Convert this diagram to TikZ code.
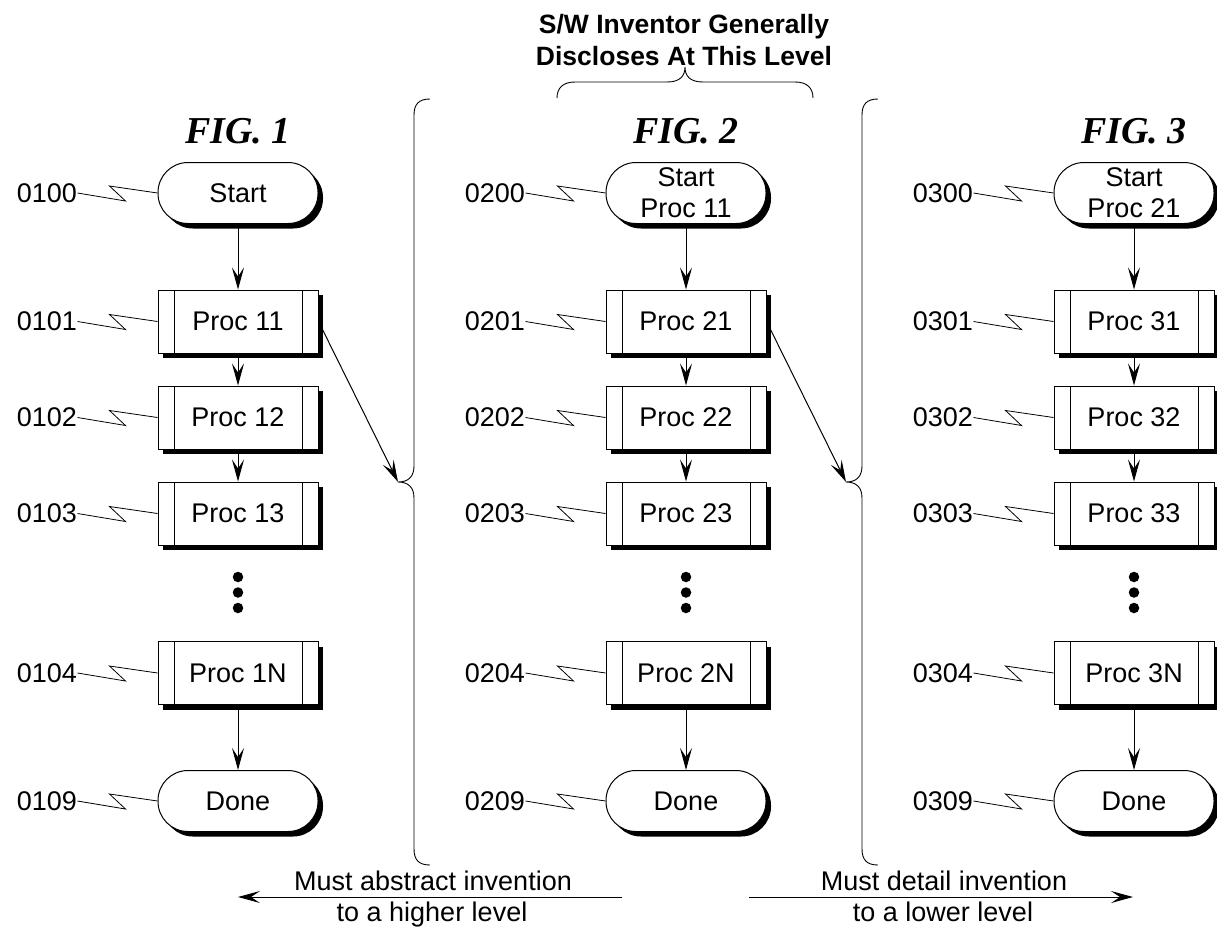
\documentclass[tikz,border=0pt]{standalone}
\usepackage{fontspec}
\setmainfont{Liberation Sans}
\newfontfamily\figfont{Liberation Serif}
\usetikzlibrary{arrows.meta,shadows,calc}

\begin{document}
\begin{tikzpicture}[x=1pt,y=-1pt,line width=1pt,
  every node/.style={font=\fontsize{27}{31}\selectfont, inner sep=0pt},
  shade/.style={drop shadow={shadow xshift=5pt, shadow yshift=-5pt, fill=black, opacity=1}},
  term/.style={draw, fill=white, shade, minimum width=160pt, minimum height=61pt,
    rounded corners=30pt, align=center},
  proc/.style={draw, fill=white, shade, minimum width=160pt, minimum height=63pt,
    path picture={\draw[line width=0.8pt]
      ([xshift=16pt]path picture bounding box.north west) -- ([xshift=16pt]path picture bounding box.south west)
      ([xshift=-16pt]path picture bounding box.north east) -- ([xshift=-16pt]path picture bounding box.south east);}},
  dot/.style={circle, fill=black, minimum size=10.5pt},
  arr/.style={-{Stealth[length=22pt,width=12pt,inset=9pt]}},
  lead/.style={line width=0.8pt},
  figt/.style={font=\fontsize{38}{40}\selectfont\figfont\bfseries\itshape, anchor=base},
  head/.style={font=\fontsize{26.5}{31}\selectfont\bfseries, anchor=base},
  note/.style={anchor=base},
  brace/.style={line width=0.9pt}]

\useasboundingbox (0,0) rectangle (1217,926);

% heading above the middle figure
\node[head] (h1) at (684,33) {S/W Inventor Generally};
\node[head] (h2) at (684,65) {Discloses At This Level};
\draw[brace] (557,98) .. controls (557,88) and (563,82) .. (575,82) -- (667,82)
  .. controls (680,82) and (685,76) .. (685,67)
  .. controls (685,76) and (690,82) .. (703,82) -- (795,82)
  .. controls (807,82) and (813,88) .. (813,98);

% the three flowcharts
\foreach \col/\x/\st in {1/238/{Start}, 2/686/{Start\\Proc 11}, 3/1134/{Start\\Proc 21}} {
  \node[figt] (fig\col) at (\x,143) {FIG. \col};
  \node[term] (s\col) at (\x,193) {\st};
  \node[proc] (a\col) at (\x,321.5) {Proc \col1};
  \node[proc] (b\col) at (\x,417.5) {Proc \col2};
  \node[proc] (e\col) at (\x,513.5) {Proc \col3};
  \node[dot] (da\col) at (\x,577) {};
  \node[dot] (db\col) at (\x,592.5) {};
  \node[dot] (dc\col) at (\x,608) {};
  \node[proc] (n\col) at (\x,673) {Proc \col N};
  \node[term] (t\col) at (\x,801) {Done};
  \draw[arr] (s\col) -- (a\col);
  \draw[arr] (a\col) -- (b\col);
  \draw[arr] (b\col) -- (e\col);
  \draw[arr] (n\col) -- (t\col);
  \foreach \nd/\num in {s/00, a/01, b/02, e/03, n/04, t/09} {
    \node[anchor=east] (l\nd\col) at ($(\nd\col.west)+(-80,0)$) {0\col\num};
    \draw[lead] (l\nd\col.east) -- ($(\nd\col.west)+(-32,8)$)
      -- ($(\nd\col.west)+(-48,-7)$) -- (\nd\col.west);
  }
}

% braces between the figures
\foreach \bx/\nm in {414/L, 862/R} {
  \coordinate (tip\nm) at (\bx-16,482);
  \draw[brace] (\bx+16,99) .. controls (\bx+5,99) and (\bx,104) .. (\bx,115) -- (\bx,466)
    .. controls (\bx,477) and (\bx-6,482) .. (tip\nm)
    .. controls (\bx-6,482) and (\bx,487) .. (\bx,498) -- (\bx,849)
    .. controls (\bx,860) and (\bx+5,865) .. (\bx+16,865);
}
\draw[arr] ($(a1.east)+(4,8)$) -- (tipL);
\draw[arr] ($(a2.east)+(4,8)$) -- (tipR);

% direction arrows at the bottom
\coordinate (la0) at (622,897);
\coordinate (la1) at (238,897);
\coordinate (ra0) at (749,897);
\coordinate (ra1) at (1133,897);
\draw[arr] (la0) -- (la1);
\draw[arr] (ra0) -- (ra1);
\node[note] (lt1) at (433,890) {Must abstract invention};
\node[note] (lt2) at (432,921) {to a higher level};
\node[note] (rt1) at (944,890) {Must detail invention};
\node[note] (rt2) at (943,921) {to a lower level};
\end{tikzpicture}
\end{document}
